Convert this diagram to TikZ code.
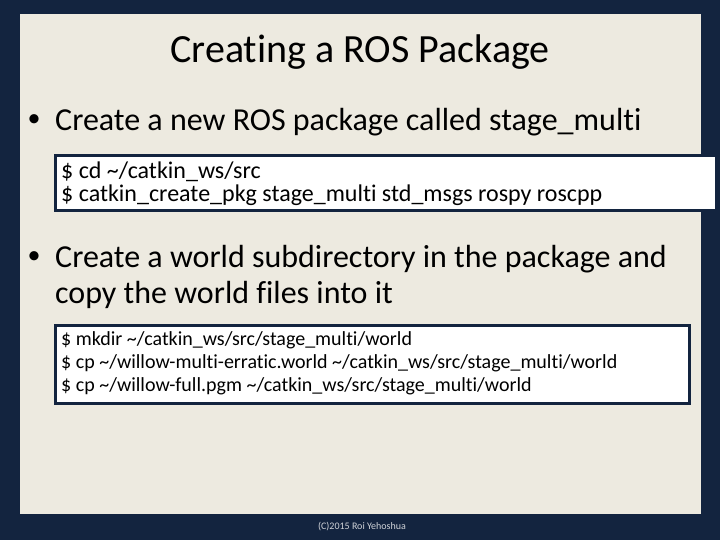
\documentclass[tikz,border=0pt]{standalone}
\usepackage{fontspec}
\setmainfont[Ligatures=NoCommon]{Carlito}
\definecolor{navy}{HTML}{13243F}
\definecolor{beige}{HTML}{EDEAE0}
\begin{document}
\begin{tikzpicture}[x=1pt,y=-1pt,
  txt/.style={anchor=west,inner sep=0pt,font=\fontsize{32}{38}\selectfont},
  bul/.style={inner sep=0pt,font=\fontsize{26}{30}\selectfont},
  code/.style={anchor=west,inner sep=0pt,font=\fontsize{#1}{22}\selectfont}]
\useasboundingbox (0,0) rectangle (720,540);
\fill[navy] (0,0) rectangle (720,540);
\fill[beige] (20,14) rectangle (701,514);
\node[font=\fontsize{40}{46}\selectfont] (title) at (360,52) {Creating a ROS Package};
\node[bul] (p1) at (34,121) {\textbullet};
\node[txt] (b1) at (55,122) {Create a new ROS package called stage\_multi};
\draw[navy,line width=3pt,fill=white] (55,156) rectangle (716,211);
\node[code=24] (c1) at (61,172) {\$ cd \textasciitilde/catkin\_ws/src};
\node[code=24] (c2) at (61,195) {\$ catkin\_create\_pkg stage\_multi std\_msgs rospy roscpp};
\node[bul] (p2) at (34,258) {\textbullet};
\node[txt] (b2) at (55,259) {Create a world subdirectory in the package and};
\node[txt] (b3) at (55,295) {copy the world files into it};
\draw[navy,line width=3pt,fill=white] (55,325) rectangle (689,403);
\node[code=20] (d1) at (61,340) {\$ mkdir \textasciitilde/catkin\_ws/src/stage\_multi/world};
\node[code=20] (d2) at (61,363) {\$ cp \textasciitilde/willow-multi-erratic.world \textasciitilde/catkin\_ws/src/stage\_multi/world};
\node[code=20] (d3) at (61,386) {\$ cp \textasciitilde/willow-full.pgm \textasciitilde/catkin\_ws/src/stage\_multi/world};
\node[text=white!80!navy,font=\fontsize{10}{12}\selectfont] (f) at (362,527) {(C)2015 Roi Yehoshua};
\end{tikzpicture}
\end{document}
